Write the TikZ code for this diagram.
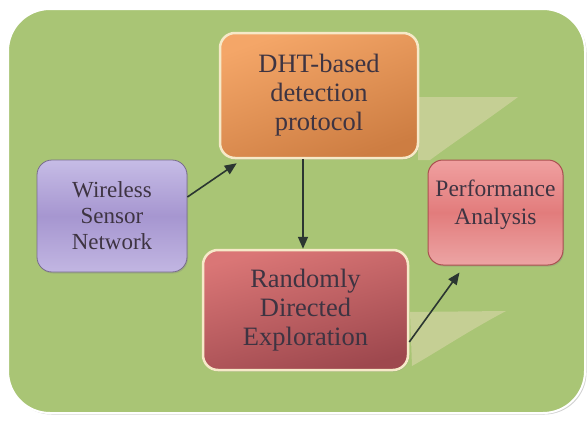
\documentclass[tikz,border=0pt]{standalone}
\usepackage{fontspec}
\setmainfont{Liberation Serif}
\newfontfamily\boxserif{Liberation Serif}
\usetikzlibrary{arrows.meta,shadows,calc}
\definecolor{panelgreen}{HTML}{A9C575}
\definecolor{reflect}{HTML}{D2D4A2}
\definecolor{cream}{HTML}{F6E9C8}
\definecolor{txtcol}{HTML}{3E3442}
\definecolor{arrcol}{HTML}{2B3631}
\tikzset{
  panel/.style={fill=panelgreen, draw=white, line width=2pt, rounded corners=42pt,
    drop shadow={shadow xshift=1.5pt, shadow yshift=-1.5pt, opacity=0.35}},
  boxbase/.style={rounded corners=15pt, align=center, text=txtcol, inner sep=0pt,
    drop shadow={shadow xshift=1pt, shadow yshift=-1.5pt, opacity=0.3}},
  bigtxt/.style={font=\boxserif\fontsize{26.5}{29}\selectfont},
  smalltxt/.style={font=\boxserif\fontsize{23}{26}\selectfont},
  arr/.style={draw=arrcol, line width=1.6pt, -{Triangle[length=12pt,width=10pt]}},
  refl/.style={fill=reflect, opacity=0.7}
}
\begin{document}
\begin{tikzpicture}[x=1pt,y=-1pt]
\useasboundingbox (0,0) rectangle (587,423);
\fill[white] (0,0) rectangle (587,423);
\path[panel] (8,9) rectangle (585,413);
% reflections
\fill[refl] (418,97) -- (518,97) .. controls (480,125) and (450,145) .. (430,160) -- (418,160) -- cycle;
\fill[refl] (410,312) -- (506,311) .. controls (470,330) and (440,350) .. (412,366) -- cycle;
% boxes
\node[boxbase, bigtxt, draw=cream, line width=2.5pt, top color={rgb,255:red,244;green,166;blue,104},
  bottom color={rgb,255:red,205;green,125;blue,66}, shading angle=20,
  minimum width=198pt, minimum height=125pt] (dht) at (319,95.5)
  {DHT-based\\detection\\protocol};
\node[boxbase, smalltxt, draw={rgb,255:red,120;green,108;blue,140}, line width=0.8pt,
  top color={rgb,255:red,198;green,188;blue,230}, bottom color={rgb,255:red,194;green,182;blue,226},
  middle color={rgb,255:red,166;green,150;blue,208},
  minimum width=150pt, minimum height=112pt] (wsn) at (112,216)
  {Wireless\\Sensor\\Network};
\node[boxbase, bigtxt, draw=cream, line width=2.5pt,
  top color={rgb,255:red,218;green,118;blue,118}, bottom color={rgb,255:red,158;green,72;blue,78},
  shading angle=15,
  minimum width=205pt, minimum height=120pt] (rde) at (305.5,310)
  {Randomly\\Directed\\Exploration};
\node[boxbase, draw={rgb,255:red,170;green,80;blue,80}, line width=1pt,
  top color={rgb,255:red,240;green,160;blue,160}, bottom color={rgb,255:red,236;green,164;blue,164},
  middle color={rgb,255:red,226;green,124;blue,124},
  minimum width=135pt, minimum height=105pt] (pa) at (495.5,212.5) {};
\node[text=txtcol, align=center, font=\boxserif\fontsize{23.5}{28}\selectfont] (patext)
  at ([yshift=8pt]pa.center) {Performance\\Analysis};
% connectors
\draw[arr] ([yshift=19pt]wsn.east) -- ([xshift=18pt,yshift=-4pt]dht.south west);
\draw[arr] ([xshift=-16pt]dht.south) -- ([xshift=-2.5pt]rde.north);
\draw[arr] ([yshift=-32pt]rde.east) -- ([xshift=32pt,yshift=-7pt]pa.south west);
\end{tikzpicture}
\end{document}
